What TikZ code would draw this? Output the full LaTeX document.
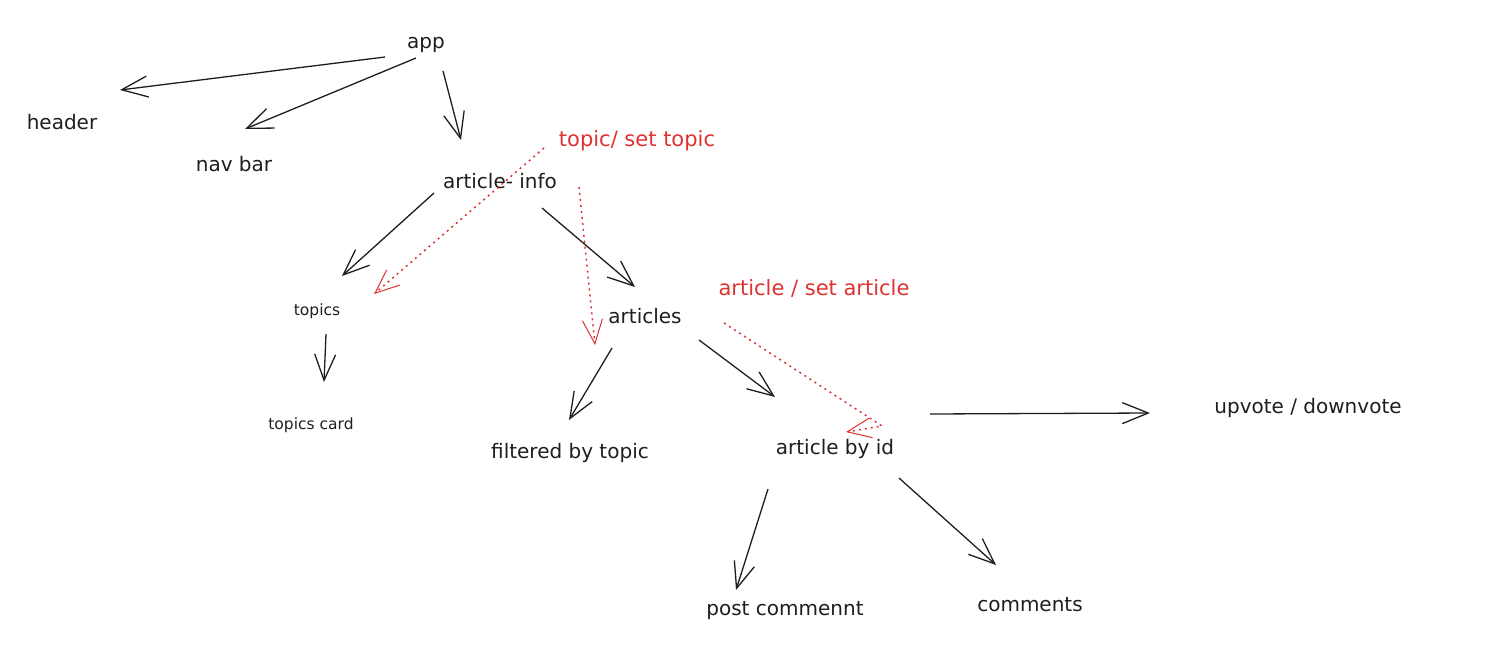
\documentclass[tikz,border=0pt]{standalone}
\usepackage{fontspec}
\setmainfont{DejaVu Sans}
\usetikzlibrary{arrows.meta}
\definecolor{ink}{RGB}{30,30,30}
\definecolor{inkred}{RGB}{224,49,49}

\begin{document}
\begin{tikzpicture}[x=1pt, y=-1pt,
  lbl/.style={text=ink, font=\fontsize{20}{24}\selectfont},
  small/.style={text=ink, font=\fontsize{15.5}{18}\selectfont},
  redlbl/.style={text=inkred, font=\fontsize{21}{25}\selectfont},
  arr/.style={draw=ink, line width=1.3pt, -{Straight Barb[length=26pt,width=21pt]}},
  pass/.style={draw=inkred, line width=1.5pt, dash pattern=on 2pt off 4pt, -{Straight Barb[length=24pt,width=20pt,line width=1pt]}}]
\useasboundingbox (0,0) rectangle (1493,648);

% components
\node[lbl] (app) at (426,45) {app};
\node[lbl] (header) at (62,122) {header};
\node[lbl] (navbar) at (234,164) {nav bar};
\node[lbl] (info) at (500,181) {article- info};
\node[small] (topics) at (317,311) {topics};
\node[small] (card) at (311,425) {topics card};
\node[lbl] (articles) at (645,316) {articles};
\node[lbl] (filtered) at (570,453) {filtered by topic};
\node[lbl] (byid) at (835,449) {article by id};
\node[lbl] (vote) at (1308,408) {upvote / downvote};
\node[lbl] (post) at (785,611) {post commennt};
\node[lbl] (comments) at (1030,605) {comments};

% state labels
\node[redlbl] (topicstate) at (637,141) {topic/ set topic};
\node[redlbl] (articlestate) at (814,288) {article / set article};
\coordinate (bend) at (882,426);

% tree
\draw[arr] ([shift={(-41,12)}]app.center) -- ([shift={(58,-32)}]header.center);
\draw[arr] ([shift={(-10,13)}]app.center) -- ([shift={(11,-35)}]navbar.center);
\draw[arr] ([shift={(17,26)}]app.center) -- ([shift={(-39,-41)}]info.center);
\draw[arr] ([shift={(-66,12)}]info.center) -- ([shift={(25,-35)}]topics.center);
\draw[arr] ([shift={(42,27)}]info.center) -- ([shift={(-10,-29)}]articles.center);
\draw[arr] ([shift={(9,23)}]topics.center) -- ([shift={(13,-43)}]card.center);
\draw[arr] ([shift={(-33,32)}]articles.center) -- ([shift={(-1,-33)}]filtered.center);
\draw[arr] ([shift={(54,24)}]articles.center) -- ([shift={(-60,-52)}]byid.center);
\draw[arr] ([shift={(95,-35)}]byid.center) -- ([shift={(-158,5)}]vote.center);
\draw[arr] ([shift={(-67,40)}]byid.center) -- ([shift={(-49,-21)}]post.center);
\draw[arr] ([shift={(64,29)}]byid.center) -- ([shift={(-34,-40)}]comments.center);

% passed state
\draw[pass] ([shift={(-93,7)}]topicstate.center) -- ([shift={(57,-17)}]topics.center);
\draw[pass] ([shift={(-58,46)}]topicstate.center) -- ([shift={(-50,29)}]articles.center);
\draw[pass] ([shift={(-90,35)}]articlestate.center) -- (bend) -- ([shift={(11,-17)}]byid.center);
\end{tikzpicture}
\end{document}
